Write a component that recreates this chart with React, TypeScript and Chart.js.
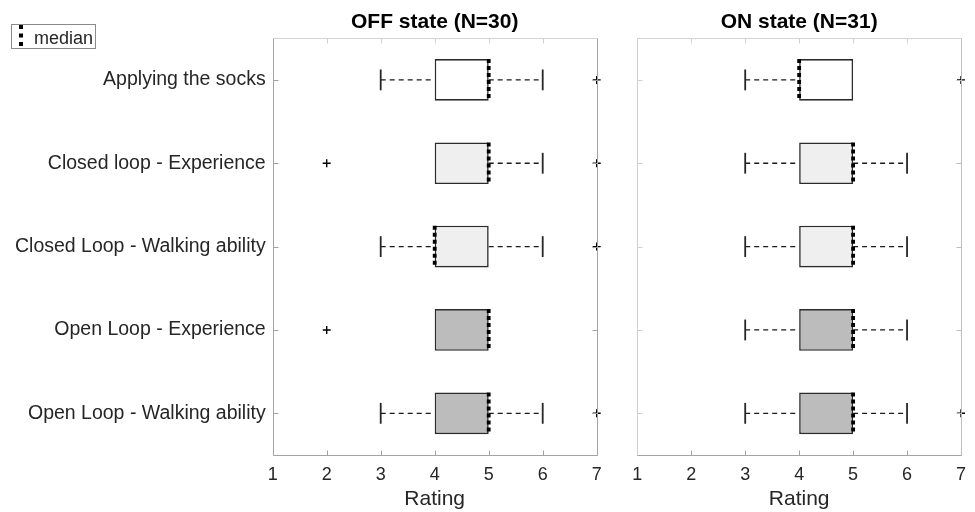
import React, { useEffect, useRef } from "react";
import { Chart, registerables } from "chart.js";

Chart.register(...registerables);

// ---------- data ----------
const categories = [
  "Applying the socks",
  "Closed loop - Experience",
  "Closed Loop - Walking ability",
  "Open Loop - Experience",
  "Open Loop - Walking ability",
];
const xTicks = [1, 2, 3, 4, 5, 6, 7];
const boxFills = ["#ffffff", "#efefef", "#efefef", "#bcbcbc", "#bcbcbc"];

const offQ1 = [4, 4, 4, 4, 4];
const offQ3 = [5, 5, 5, 5, 5];
const offMedian = [5, 5, 4, 5, 5];
const offWhiskerLow = [3, 4, 3, 4, 3];
const offWhiskerHigh = [6, 6, 6, 5, 6];
const offOutliers = [[7], [2, 7], [7], [2], [7]];

const onQ1 = [4, 4, 4, 4, 4];
const onQ3 = [5, 5, 5, 5, 5];
const onMedian = [4, 5, 5, 5, 5];
const onWhiskerLow = [3, 3, 3, 3, 3];
const onWhiskerHigh = [5, 6, 6, 6, 6];
const onOutliers = [[7], [], [], [], [7]];

const FONT = "'Liberation Sans', Arial, Helvetica, sans-serif";
const TEXT = "#262626";

type Stats = {
  q1: number[];
  q3: number[];
  med: number[];
  low: number[];
  high: number[];
  out: number[][];
};

function makePlugin(stats: Stats, drawLegend: boolean, frame: { l: string; r: string; t: string; b: string }) {
  return {
    id: "boxDeco",
    afterDatasetsDraw(chart: any) {
      const { ctx, scales } = chart;
      const x = scales.x;
      const y = scales.y;
      const meta = chart.getDatasetMeta(0);
      ctx.save();
      categories.forEach((_, i) => {
        const el = meta.data[i];
        const yc = y.getPixelForValue(i);
        const hh = el.height / 2;
        // whiskers
        ctx.strokeStyle = "#1a1a1a";
        ctx.lineWidth = 1.3;
        ctx.setLineDash([5, 4]);
        if (stats.low[i] < stats.q1[i]) {
          ctx.beginPath();
          ctx.moveTo(x.getPixelForValue(stats.low[i]), yc);
          ctx.lineTo(x.getPixelForValue(stats.q1[i]), yc);
          ctx.stroke();
        }
        if (stats.high[i] > stats.q3[i]) {
          ctx.beginPath();
          ctx.moveTo(x.getPixelForValue(stats.q3[i]), yc);
          ctx.lineTo(x.getPixelForValue(stats.high[i]), yc);
          ctx.stroke();
        }
        ctx.setLineDash([]);
        ctx.lineWidth = 1.8;
        ctx.strokeStyle = "#262626";
        const caps: number[] = [];
        if (stats.low[i] < stats.q1[i]) caps.push(stats.low[i]);
        if (stats.high[i] > stats.q3[i]) caps.push(stats.high[i]);
        caps.forEach((v) => {
          const px = x.getPixelForValue(v);
          ctx.beginPath();
          ctx.moveTo(px, yc - hh / 2);
          ctx.lineTo(px, yc + hh / 2);
          ctx.stroke();
        });
        // median
        const mx = x.getPixelForValue(stats.med[i]);
        ctx.strokeStyle = "#000";
        ctx.lineWidth = 3.8;
        ctx.setLineDash([4, 3]);
        ctx.beginPath();
        ctx.moveTo(mx, yc - hh);
        ctx.lineTo(mx, yc + hh);
        ctx.stroke();
        ctx.setLineDash([]);
        // outliers
        ctx.lineWidth = 1.4;
        ctx.strokeStyle = "#000";
        stats.out[i].forEach((v) => {
          const px = x.getPixelForValue(v);
          ctx.beginPath();
          ctx.moveTo(px - 4, yc);
          ctx.lineTo(px + 4, yc);
          ctx.moveTo(px, yc - 4);
          ctx.lineTo(px, yc + 4);
          ctx.stroke();
        });
      });
      ctx.restore();
    },
    afterDraw(chart: any) {
      const { ctx, chartArea: a, scales } = chart;
      const x = scales.x;
      const y = scales.y;
      ctx.save();
      ctx.lineWidth = 1;
      const seg = (c: string, x1: number, y1: number, x2: number, y2: number) => {
        ctx.strokeStyle = c;
        ctx.beginPath();
        ctx.moveTo(x1, y1);
        ctx.lineTo(x2, y2);
        ctx.stroke();
      };
      const L = Math.round(a.left) + 0.5;
      const R = Math.round(a.right) + 0.5;
      const T = Math.round(a.top) + 0.5;
      const B = Math.round(a.bottom) + 0.5;
      // inner ticks
      xTicks.forEach((v) => {
        const px = Math.round(x.getPixelForValue(v)) + 0.5;
        seg(frame.b, px, B, px, B - 5);
        seg(frame.t, px, T, px, T + 5);
      });
      categories.forEach((_, i) => {
        const py = Math.round(y.getPixelForValue(i)) + 0.5;
        seg(frame.l, L, py, L + 5, py);
        seg(frame.r, R, py, R - 5, py);
      });
      seg(frame.t, L, T, R, T);
      seg(frame.r, R, T, R, B);
      seg(frame.l, L, T, L, B);
      seg(frame.b, L, B, R, B);

      if (drawLegend) {
        ctx.strokeStyle = "#8a8a8a";
        ctx.strokeRect(11.5, 24.5, 84, 24);
        ctx.fillStyle = "#000";
        [25, 33.5, 42].forEach((yy) => ctx.fillRect(19, yy, 4, 4));
        ctx.fillStyle = TEXT;
        ctx.font = `18px ${FONT}`;
        ctx.textAlign = "left";
        ctx.textBaseline = "alphabetic";
        ctx.fillText("median", 34, 44);
      }
      ctx.restore();
    },
  };
}

function makeConfig(title: string, stats: Stats, showLabels: boolean, padLeft: number, padRight: number, frame: any) {
  return {
    type: "bar" as const,
    data: {
      labels: categories,
      datasets: [
        {
          data: stats.q1.map((v, i) => [v, stats.q3[i]]),
          backgroundColor: boxFills,
          borderColor: "#2b2b2b",
          borderWidth: 1.6,
          borderSkipped: false,
          barPercentage: 0.5,
          categoryPercentage: 1,
        },
      ],
    },
    options: {
      indexAxis: "y" as const,
      responsive: false,
      animation: false as const,
      layout: { padding: { left: padLeft, right: padRight, top: 0, bottom: 0 } },
      plugins: {
        legend: { display: false },
        tooltip: { enabled: false },
        title: {
          display: true,
          text: title,
          fullSize: false,
          color: "#000",
          font: { family: FONT, size: 21, weight: "bold" as const },
          padding: { top: 10, bottom: 3 },
        },
      },
      scales: {
        x: {
          type: "linear" as const,
          min: 1,
          max: 7,
          afterBuildTicks: (s: any) => {
            s.ticks = xTicks.map((v) => ({ value: v }));
          },
          grid: { display: false, drawTicks: false },
          border: { display: false },
          ticks: { color: TEXT, font: { family: FONT, size: 18 }, padding: 9 },
          title: { display: true, text: "Rating", color: TEXT, font: { family: FONT, size: 21 }, padding: 0 },
          afterFit: (s: any) => {
            s.height = 57;
          },
        },
        y: {
          type: "category" as const,
          display: true,
          grid: { display: false, drawTicks: false },
          border: { display: false },
          ticks: { display: showLabels, color: TEXT, font: { family: FONT, size: 19.5 }, padding: 7 },
          afterFit: (s: any) => {
            s.width = showLabels ? 272.7 : 0;
          },
        },
      },
    },
    plugins: [makePlugin(stats, showLabels, frame)],
  };
}

export default function App() {
  const leftRef = useRef<HTMLCanvasElement>(null);
  const rightRef = useRef<HTMLCanvasElement>(null);

  useEffect(() => {
    const offStats: Stats = { q1: offQ1, q3: offQ3, med: offMedian, low: offWhiskerLow, high: offWhiskerHigh, out: offOutliers };
    const onStats: Stats = { q1: onQ1, q3: onQ3, med: onMedian, low: onWhiskerLow, high: onWhiskerHigh, out: onOutliers };
    const c1 = new Chart(
      leftRef.current as HTMLCanvasElement,
      makeConfig("OFF state (N=30)", offStats, true, 0, 23.3, { l: "#a3a3a3", r: "#a3a3a3", t: "#d2d2d2", b: "#a3a3a3" }) as any
    );
    const c2 = new Chart(
      rightRef.current as HTMLCanvasElement,
      makeConfig("ON state (N=31)", onStats, false, 17.3, 13.3, { l: "#cfcfcf", r: "#bdbdbd", t: "#d2d2d2", b: "#a3a3a3" }) as any
    );
    return () => {
      c1.destroy();
      c2.destroy();
    };
  }, []);

  return (
    <div style={{ position: "fixed", left: 0, top: 0, width: 975, height: 512, background: "#fff" }}>
      <canvas
        ref={leftRef}
        width={620}
        height={512}
        style={{ position: "absolute", left: 0, top: 0, width: 620, height: 512 }}
      />
      <canvas
        ref={rightRef}
        width={355}
        height={512}
        style={{ position: "absolute", left: 620, top: 0, width: 355, height: 512 }}
      />
    </div>
  );
}
